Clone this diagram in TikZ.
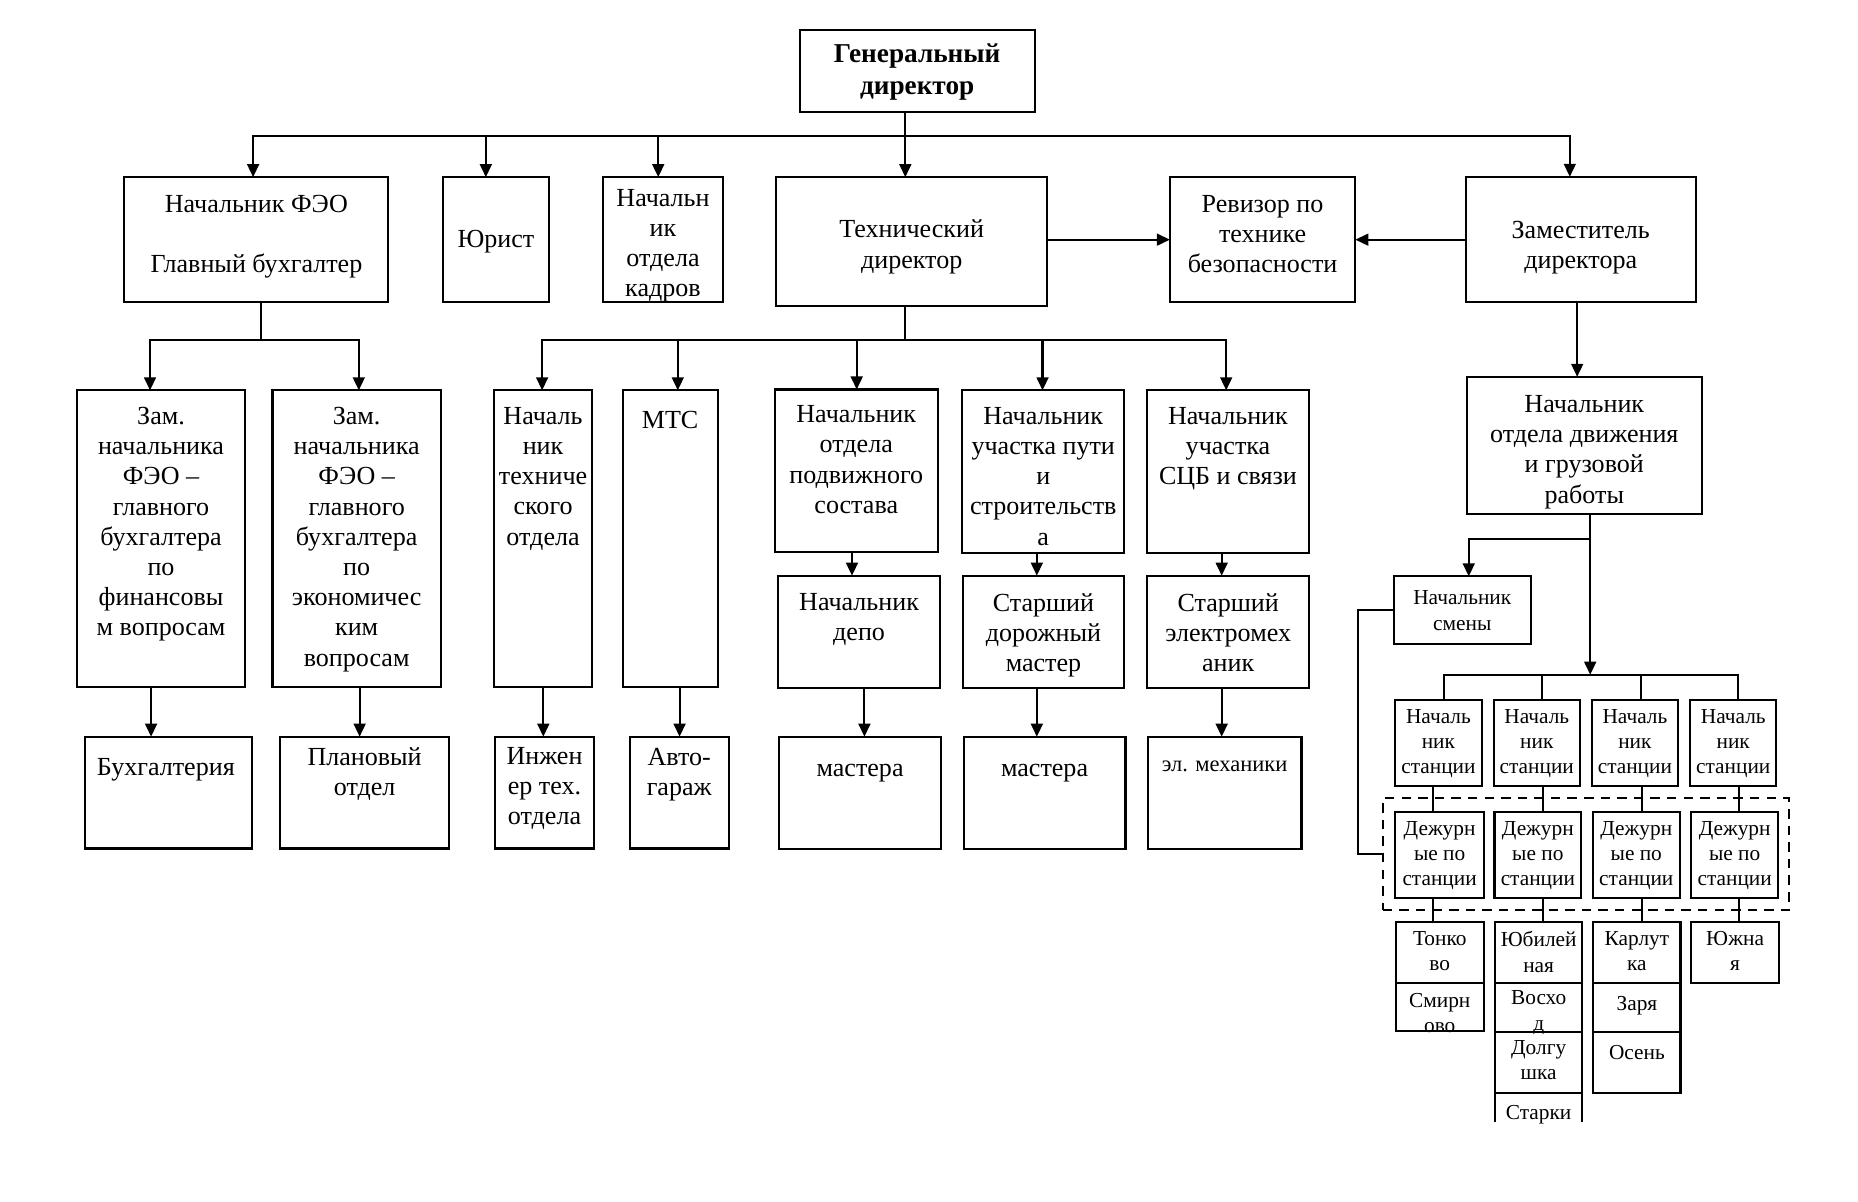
\documentclass[tikz,border=0pt]{standalone}
\usepackage{fontspec}
\setmainfont{Liberation Serif}
\usetikzlibrary{arrows.meta}
\tikzset{
  bx/.style={draw, line width=0.9pt, inner sep=0pt, outer sep=0pt},
  conn/.style={line width=0.9pt},
  arr/.style={line width=0.9pt, -{Triangle[length=5.5pt,width=5pt]}},
  lbl/.style={anchor=north, inner sep=0pt, align=center, yshift=3.4pt,
    font=\fontsize{11}{12.75}\selectfont, execute at begin node=\strut},
  bld/.style={anchor=north, inner sep=0pt, align=center, yshift=4.05pt,
    font=\fontsize{11.5}{13.5}\selectfont\bfseries, execute at begin node=\strut},
  sml/.style={anchor=north, inner sep=0pt, align=center, yshift=2.9pt,
    font=\fontsize{9}{10.6}\selectfont, execute at begin node=\strut},
  dashbox/.style={dash pattern=on 4pt off 3pt}
}
\newcommand\mybox[6][]{\node[bx,#1,minimum width={(#5-#3)*0.5pt},minimum height={(#6-#4)*0.5pt}] (#2) at ({(#3+#5)/2},{(#4+#6)/2}) {};}
\begin{document}
\begin{tikzpicture}[x=0.5pt,y=-0.5pt]
\fill[white] (0,0) rectangle (1568,1014);
\useasboundingbox (0,0) rectangle (1568,1014);
% ---------- boxes ----------
\mybox{gd}{675}{25.2}{873.3}{94.3}
\mybox{feo}{105}{149.5}{327.8}{255}
\mybox{jur}{374}{149.5}{463}{255}
\mybox{kadr}{509}{149.5}{610}{255}
\mybox{tech}{655}{149.5}{883.8}{258.3}
\mybox{rev}{987.3}{149.5}{1143.8}{255}
\mybox{zam}{1237}{149.2}{1431}{255}
\mybox{zf}{65}{329.4}{206.7}{579.5}
\mybox{ze}{230}{329.4}{371.9}{579.5}
\mybox{nto}{417}{329.4}{499.5}{579.5}
\mybox{mts}{525.5}{329.4}{605.6}{579.5}
\mybox{pod}{653.7}{328.7}{791.5}{466}
\mybox{put}{812}{329.4}{948.8}{466.6}
\mybox{scb}{967.8}{329.4}{1104.8}{466.6}
\mybox{dv}{1238}{318}{1436}{433.6}
\mybox{depo}{656.9}{485.8}{793.2}{580.9}
\mybox{dor}{812.5}{485.8}{948.8}{580.9}
\mybox{elm}{968.2}{485.8}{1104.8}{580.9}
\mybox{buh}{71.5}{621.7}{212.5}{716}
\mybox{plan}{236.5}{621.7}{379}{716}
\mybox{ing}{418}{621.7}{501}{716}
\mybox{avto}{531.5}{621.7}{615}{716}
\mybox{mas1}{657.5}{621.7}{794.1}{716.8}
\mybox{mas2}{813.2}{621.7}{949.8}{716.8}
\mybox{elmh}{968.8}{621.7}{1098.3}{716.8}
\mybox{ns}{1176.2}{486.4}{1292.1}{543.6}
\mybox{s1}{1177}{590.7}{1250.8}{663.4}
\mybox{s2}{1260.6}{590.7}{1333.2}{663.4}
\mybox{s3}{1343.4}{590.7}{1416}{663.4}
\mybox{s4}{1426.4}{590.7}{1499}{663.4}
\mybox{d1}{1177.6}{685}{1252.2}{757.6}
\mybox{d2}{1261.2}{685}{1334.4}{757.6}
\mybox{d3}{1344}{685}{1417.7}{757.6}
\mybox{d4}{1427.3}{685}{1500.4}{757.6}
\mybox[dashbox]{frame}{1166.9}{673.7}{1509.7}{768}
\mybox{c1a}{1178}{778}{1252}{829.7}
\mybox{c1b}{1178}{829.7}{1252}{870}
\mybox{c2a}{1262}{778}{1335}{829.7}
\mybox{c2b}{1262}{829.7}{1335}{870.6}
\mybox{c2c}{1262}{870.6}{1335}{922.2}
\mybox{c3a}{1344.5}{778}{1418.2}{829.7}
\mybox{c3b}{1344.5}{829.7}{1418.2}{870.6}
\mybox{c3c}{1344.5}{870.6}{1418.2}{922.2}
\mybox{c4a}{1427.3}{778}{1501.3}{829.7}
\draw[conn] (c2c.south west) -- ++(0,24.3);
\draw[conn] (c2c.south east) -- ++(0,24.3);
% ---------- texts ----------
\node[bld] (gd-t) at (774,45) {Генеральный\\директор};
\node[lbl] (feo-t) at (216.4,171) {Начальник ФЭО\\[12.75pt]Главный бухгалтер};
\node[lbl] (jur-t) at (418.5,197.6) {Юрист};
\node[lbl] (kadr-t) at (559.5,166) {Начальн\\ик\\отдела\\кадров};
\node[lbl] (tech-t) at (769.4,192) {Технический\\директор};
\node[lbl] (rev-t) at (1065.5,171) {Ревизор по\\технике\\безопасности};
\node[lbl] (zam-t) at (1334,192.8) {Заместитель\\директора};
\node[lbl] (zf-t) at (135.9,350) {Зам.\\начальника\\ФЭО –\\главного\\бухгалтера\\по\\финансовы\\м вопросам};
\node[lbl] (ze-t) at (301,350) {Зам.\\начальника\\ФЭО –\\главного\\бухгалтера\\по\\экономичес\\ким\\вопросам};
\node[lbl] (nto-t) at (458.3,350) {Началь\\ник\\техниче\\ского\\отдела};
\node[lbl] (mts-t) at (565.5,350) {МТС};
\node[lbl] (pod-t) at (722.6,348.7) {Начальник\\отдела\\подвижного\\состава};
\node[lbl] (put-t) at (880.4,350) {Начальник\\участка пути\\и\\строительств\\а};
\node[lbl] (scb-t) at (1036.3,350) {Начальник\\участка\\СЦБ и связи};
\node[lbl] (dv-t) at (1337,340) {Начальник\\отдела движения\\и грузовой\\работы};
\node[lbl] (depo-t) at (725,507) {Начальник\\депо};
\node[lbl] (dor-t) at (880.6,507) {Старший\\дорожный\\мастер};
\node[lbl] (elm-t) at (1036.5,507) {Старший\\электромех\\аник};
\node[lbl] (buh-t) at (140,643) {Бухгалтерия};
\node[lbl] (plan-t) at (307.7,637) {Плановый\\отдел};
\node[lbl] (ing-t) at (459.5,637) {Инжен\\ер тех.\\отдела};
\node[lbl] (avto-t) at (573.2,637.8) {Авто-\\гараж};
\node[lbl] (mas1-t) at (725.8,644) {мастера};
\node[lbl] (mas2-t) at (881.5,644) {мастера};
\node[sml,font=\fontsize{9.5}{11}\selectfont] (elmh-t) at (1033.5,641) {эл. механики};
\node[sml] (ns-t) at (1234,504.1) {Начальник\\смены};
\node[sml] (s1-t) at (1213.9,604.2) {Началь\\ник\\станции};
\node[sml] (s2-t) at (1296.9,604.2) {Началь\\ник\\станции};
\node[sml] (s3-t) at (1379.7,604.2) {Началь\\ник\\станции};
\node[sml] (s4-t) at (1462.7,604.2) {Началь\\ник\\станции};
\node[sml] (d1-t) at (1214.9,698.6) {Дежурн\\ые по\\станции};
\node[sml] (d2-t) at (1297.8,698.6) {Дежурн\\ые по\\станции};
\node[sml] (d3-t) at (1380.9,698.6) {Дежурн\\ые по\\станции};
\node[sml] (d4-t) at (1463.9,698.6) {Дежурн\\ые по\\станции};
\node[sml] (c1a-t) at (1215,791.6) {Тонко\\во};
\node[sml] (c1b-t) at (1215,843.3) {Смирн\\ово};
\node[sml] (c2a-t) at (1298.5,791.6) {Юбилей\\ная};
\node[sml] (c2b-t) at (1298.5,841.7) {Восхо\\д};
\node[sml] (c2c-t) at (1298.5,883.6) {Долгу\\шка};
\node[sml] (c2d-t) at (1298.5,935.3) {Старки};
\node[sml] (c3a-t) at (1381.4,791.6) {Карлут\\ка};
\node[sml] (c3b-t) at (1381.4,843.3) {Заря};
\node[sml] (c3c-t) at (1381.4,884.6) {Осень};
\node[sml] (c4a-t) at (1464.3,791.6) {Южна\\я};
% ---------- coordinates ----------
\coordinate (g0) at (764,114.6);
\coordinate (gL) at (213.6,114.6);
\coordinate (gJ) at (410,114.6);
\coordinate (gK) at (555.5,114.6);
\coordinate (gR) at (1324.8,114.6);
\coordinate (f0) at (220,286.7);
\coordinate (fL) at (126.6,286.7);
\coordinate (fR) at (302.8,286.7);
\coordinate (t0) at (764,286.7);
\coordinate (tL) at (457.5,286.7);
\coordinate (t2) at (572,286.7);
\coordinate (t3) at (723,286.7);
\coordinate (t4) at (879.8,286.7);
\coordinate (tR) at (1034.8,286.7);
\coordinate (v1) at (127.5,0);
\coordinate (v2) at (303.5,0);
\coordinate (v3) at (458.5,0);
\coordinate (v4) at (573.5,0);
\coordinate (v5) at (719,0);
\coordinate (v6) at (875,0);
\coordinate (v7) at (1031,0);
\coordinate (v8) at (729.5,0);
\coordinate (zx) at (1331,0);
\coordinate (dj) at (1342,454.6);
\coordinate (nsx) at (1239.5,0);
\coordinate (sb) at (1342,569.4);
\coordinate (sb1) at (1218.4,569.4);
\coordinate (sb2) at (1301.4,569.4);
\coordinate (sb3) at (1384.5,569.4);
\coordinate (sb4) at (1467,569.4);
\coordinate (k1) at (1209,0);
\coordinate (k2) at (1302.3,0);
\coordinate (k3) at (1385.5,0);
\coordinate (k4) at (1467.5,0);
\coordinate (nsL) at (1145.8,0);
% ---------- connectors ----------
\draw[arr] (gd.south -| g0) -- (tech.north -| g0);
\draw[arr] (g0) -| (feo.north -| gL);
\draw[arr] (g0) -| (zam.north -| gR);
\draw[arr] (gJ) -- (jur.north -| gJ);
\draw[arr] (gK) -- (kadr.north -| gK);
\draw[arr] (tech.east |- rev.west) -- (rev.west);
\draw[arr] (zam.west |- rev.east) -- (rev.east);
\draw[conn] (feo.south -| f0) -- (f0);
\draw[arr] (f0) -| (zf.north -| fL);
\draw[arr] (f0) -| (ze.north -| fR);
\draw[conn] (tech.south -| t0) -- (t0);
\draw[arr] (t0) -| (nto.north -| tL);
\draw[arr] (t0) -| (scb.north -| tR);
\draw[arr] (t2) -- (mts.north -| t2);
\draw[arr] (t3) -- (pod.north -| t3);
\draw[arr] (t4) -- (put.north -| t4);
\draw[arr] (zf.south -| v1) -- (buh.north -| v1);
\draw[arr] (ze.south -| v2) -- (plan.north -| v2);
\draw[arr] (nto.south -| v3) -- (ing.north -| v3);
\draw[arr] (mts.south -| v4) -- (avto.north -| v4);
\draw[arr] (pod.south -| v5) -- (depo.north -| v5);
\draw[arr] (put.south -| v6) -- (dor.north -| v6);
\draw[arr] (scb.south -| v7) -- (elm.north -| v7);
\draw[arr] (depo.south -| v8) -- (mas1.north -| v8);
\draw[arr] (dor.south -| v6) -- (mas2.north -| v6);
\draw[arr] (elm.south -| v7) -- (elmh.north -| v7);
\draw[arr] (zam.south -| zx) -- (dv.north -| zx);
\draw[conn] (dv.south -| dj) -- (dj);
\draw[arr] (dj) -| (ns.north -| nsx);
\draw[arr] (dj) -- (sb);
\draw[conn] (s1.north -| sb1) |- (sb4) -- (s4.north -| sb4);
\draw[conn] (sb2) -- (s2.north -| sb2);
\draw[conn] (sb3) -- (s3.north -| sb3);
\draw[conn] (s1.south -| k1) -- (d1.north -| k1);
\draw[conn] (s2.south -| k2) -- (d2.north -| k2);
\draw[conn] (s3.south -| k3) -- (d3.north -| k3);
\draw[conn] (s4.south -| k4) -- (d4.north -| k4);
\draw[conn] (d1.south -| k1) -- (c1a.north -| k1);
\draw[conn] (d2.south -| k2) -- (c2a.north -| k2);
\draw[conn] (d3.south -| k3) -- (c3a.north -| k3);
\draw[conn] (d4.south -| k4) -- (c4a.north -| k4);
\draw[conn] (ns.west) -| (nsL |- frame.west) -- (frame.west);
\end{tikzpicture}
\end{document}
